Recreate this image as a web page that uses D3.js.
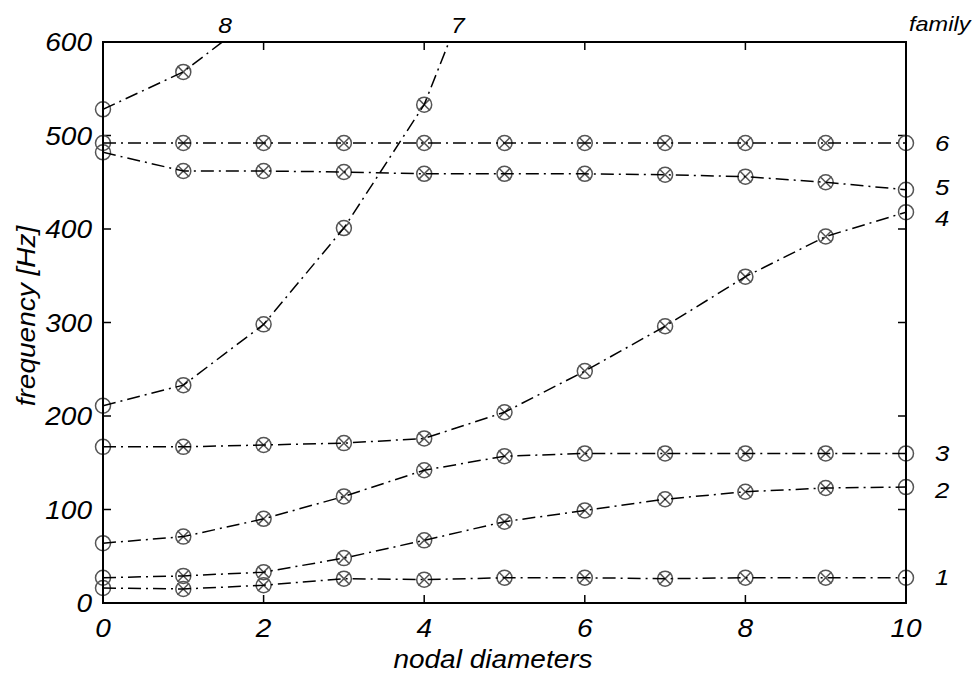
<!DOCTYPE html>
<html>
<head>
<meta charset="utf-8">
<script src="https://cdn.jsdelivr.net/npm/d3@7"></script>
<style>
    body { margin: 0; background: #fff; }
    text { font-family: "Liberation Sans", Arial, sans-serif; font-style: italic; }
</style>
</head>
<body>
<svg id="chart"></svg>
<script>
// nodal diameter index (x values)
const nodalDiameters = [0, 1, 2, 3, 4, 5, 6, 7, 8, 9, 10];

// frequencies [Hz] per family
const family1 = [16, 15, 19, 26, 25, 27, 27, 26, 27, 27, 27];
const family2 = [27, 29, 33, 48, 67, 87, 99, 111, 119, 123, 124];
const family3 = [64, 71, 90, 114, 142, 157, 160, 160, 160, 160, 160];
const family4 = [167, 167, 169, 171, 176, 204, 248, 296, 349, 392, 418];
const family5 = [482, 462, 462, 461, 459, 459, 459, 458, 456, 450, 442];
const family6 = [492, 492, 492, 492, 492, 492, 492, 492, 492, 492, 492];
const family7 = [211, 233, 298, 401, 533, 750];   // leaves the plot above 600
const family8 = [528, 568, 634];

const familyNames = ["1", "2", "3", "4", "5", "6"];
const familyLabelHz = [28, 121, 160, 412, 445, 492];   // where the right-hand numbers sit
const topNames = ["8", "7"];
const topLabelN = [1.52, 4.42];                         // where 8 and 7 leave the top

const xTicks = [0, 2, 4, 6, 8, 10];
const yTicks = [0, 100, 200, 300, 400, 500, 600];

class FamilyPlot {
    constructor(id, width, height) {
        this.width = width;
        this.height = height;
        this.svg = d3.select(id).attr("width", width).attr("height", height);
        this.stretch = 1.12;   // the figure's text is a bit wider than plain Arial
        this.dash = "13,5,2,5";
        this.markerColor = "#555";
    }

    // stretched italic text helper
    label(x, y, str, size, anchor, rotate) {
        const rot = rotate ? ` rotate(${rotate})` : "";
        return this.svg.append("text")
            .attr("transform", `translate(${x},${y})${rot} scale(${this.stretch},1)`)
            .attr("text-anchor", anchor)
            .attr("font-size", size)
            .text(str);
    }

    draw() {
        this.xScale = d3.scaleLinear().domain([0, 10]).range([103, 906]);
        this.yScale = d3.scaleLinear().domain([0, 600]).range([603, 42]);
        const x = this.xScale, y = this.yScale;
        const [x0, x1] = x.range();
        const [y0, y1] = y.range();

        this.svg.append("defs").append("clipPath").attr("id", "plotClip")
            .append("rect")
            .attr("x", x0).attr("y", y1)
            .attr("width", x1 - x0).attr("height", y0 - y1);

        // ticks inside the box, all four sides
        const tickLen = 8;
        const axes = this.svg.append("g").attr("stroke", "#000").attr("stroke-width", 1.5);
        xTicks.slice(1, -1).forEach(t => {
            axes.append("line").attr("x1", x(t)).attr("x2", x(t)).attr("y1", y0).attr("y2", y0 - tickLen);
            axes.append("line").attr("x1", x(t)).attr("x2", x(t)).attr("y1", y1).attr("y2", y1 + tickLen);
        });
        yTicks.slice(1, -1).forEach(t => {
            axes.append("line").attr("x1", x0).attr("x2", x0 + tickLen).attr("y1", y(t)).attr("y2", y(t));
            axes.append("line").attr("x1", x1).attr("x2", x1 - tickLen).attr("y1", y(t)).attr("y2", y(t));
        });

        // series
        const series = [family1, family2, family3, family4, family5, family6, family7, family8];
        const line = d3.line().x((d, i) => x(nodalDiameters[i])).y(d => y(d));

        const markers = this.svg.append("g")
            .attr("fill", "none")
            .attr("stroke", this.markerColor)
            .attr("stroke-width", 1.5);
        const r = 7.5, k = 5.8;
        series.forEach(vals => {
            vals.forEach((v, i) => {
                if (v > 600) return;
                const cx = x(nodalDiameters[i]), cy = y(v);
                markers.append("circle").attr("cx", cx).attr("cy", cy).attr("r", r);
                if (i > 0 && i < 10) {
                    markers.append("path")
                        .attr("d", `M${cx - k},${cy - k}L${cx + k},${cy + k}M${cx - k},${cy + k}L${cx + k},${cy - k}`);
                }
            });
        });

        this.svg.append("g")
            .attr("clip-path", "url(#plotClip)")
            .selectAll("path")
            .data(series).enter()
            .append("path")
            .attr("d", line)
            .attr("fill", "none")
            .attr("stroke", "#000")
            .attr("stroke-width", 1.5)
            .attr("stroke-dasharray", this.dash);

        // frame
        this.svg.append("rect")
            .attr("x", x0).attr("y", y1)
            .attr("width", x1 - x0).attr("height", y0 - y1)
            .attr("fill", "none")
            .attr("stroke", "#000")
            .attr("stroke-width", 2);

        // tick labels
        yTicks.forEach(t => this.label(92, y(t) + 9, t, 25, "end"));
        xTicks.forEach(t => this.label(x(t), 637, t, 25, "middle"));

        // axis titles
        this.label(493, 668, "nodal diameters", 25, "middle");
        this.label(35, 316, "frequency [Hz]", 25, "middle", -90);

        // family numbers
        this.label(909, 31, "family", 21, "start");
        familyNames.forEach((f, i) => this.label(935, y(familyLabelHz[i]) + 8, f, 23, "start"));
        topNames.forEach((f, i) => this.label(x(topLabelN[i]), 33, f, 22, "middle"));
    }
}

new FamilyPlot("#chart", 977, 673).draw();
</script>
</body>
</html>
